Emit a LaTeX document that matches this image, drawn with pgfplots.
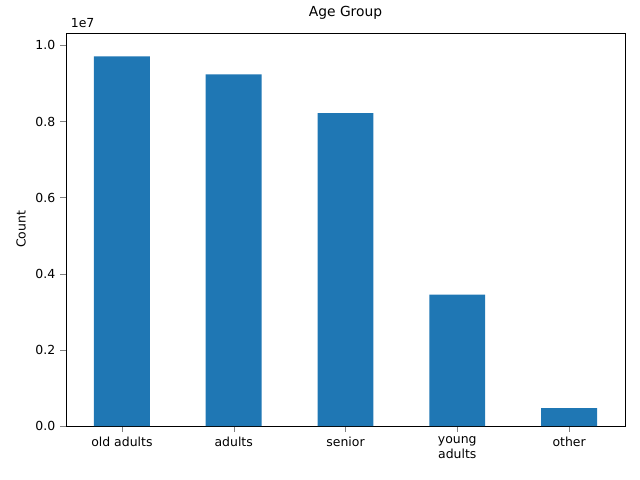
\documentclass[border=0pt]{standalone}
\usepackage{pgfplots}
\pgfplotsset{compat=1.18}
\usepackage{fontspec}
\setmainfont{DejaVu Sans}
\definecolor{mplblue}{HTML}{1F77B4}
\begin{document}
\begin{tikzpicture}
\path[use as bounding box] (-0.66in,-0.54in) rectangle (5.74in,4.26in);
\begin{axis}[
  at={(0,0)}, anchor=south west,
  scale only axis, width=5.59in, height=3.93in,
  xmin=-0.5, xmax=4.5, ymin=0, ymax=1.0325e7,
  xtick={0,1,2,3,4},
  xticklabels={old adults,adults,senior,young\\adults,other},
  xticklabel style={align=center, font=\small},
  ytick={0,2e6,4e6,6e6,8e6,1e7},
  yticklabels={0.0,0.2,0.4,0.6,0.8,1.0},
  yticklabel style={font=\small},
  scaled y ticks=false,
  tick align=outside, tick pos=left,
  ylabel={Count}, ylabel style={font=\small},
  title={Age Group}, title style={font=\normalsize},
  clip=false,
]
\addplot[ybar, bar width=0.5, fill=mplblue, draw=none] coordinates {
(0,9710000) (1,9240000) (2,8220000) (3,3450000) (4,470000)};
\node[anchor=south west, font=\small] at (rel axis cs:0,1) {1e7};
\end{axis}
\end{tikzpicture}
\end{document}
